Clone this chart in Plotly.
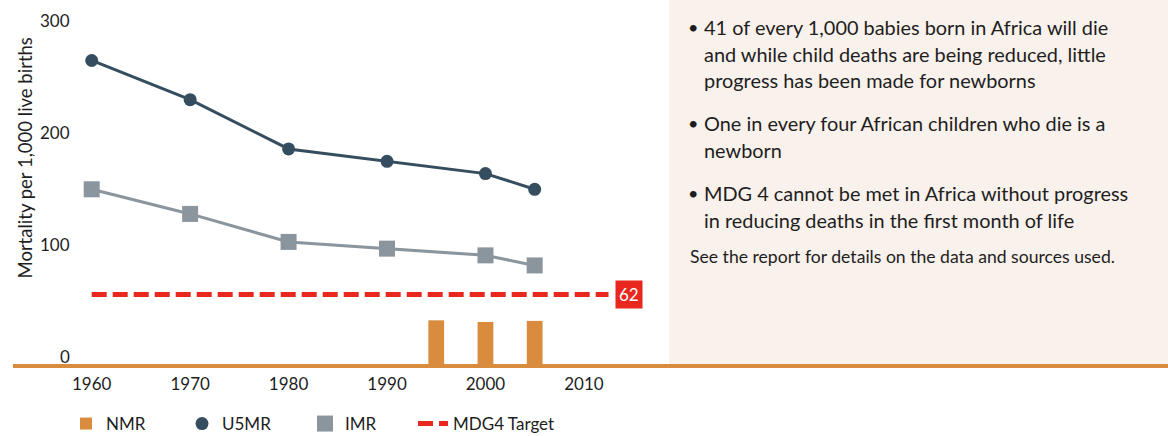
import plotly.graph_objects as go

# ---- data ----
years_line = [1960, 1970, 1980, 1990, 2000, 2005]
u5mr = [271, 236, 192, 181, 170, 156]
imr = [156, 134, 109, 103, 97, 88]
nmr_years = [1995, 2000, 2005]
nmr = [39, 37.5, 38.5]
target_years = [1960, 2012.5]
target_value = 62
x_ticks = [1960, 1970, 1980, 1990, 2000, 2010]
y_ticks = [0, 100, 200, 300]
y_title = "Mortality per 1,000 live births"
bullets = [
    ["41 of every 1,000 babies born in Africa will die",
     "and while child deaths are being reduced, little",
     "progress has been made for newborns"],
    ["One in every four African children who die is a",
     "newborn"],
    ["MDG 4 cannot be met in Africa without progress",
     "in reducing deaths in the first month of life"],
]
footnote = "See the report for details on the data and sources used."

# ---- style ----
FONT = "Lato"
C_U5 = "#354e5f"
C_IMR = "#8a959e"
C_NMR = "#d98c3d"
C_RED = "#e8281e"
C_BG = "#f9f1eb"
C_TXT = "#1e1e1e"

W, H = 1168, 436
ML, MR, MT, MB = 13, 0, 20, 72
PW, PH = W - ML - MR, H - MT - MB
PX_PER_YR = 9.844
PX_PER_UNIT = 1.12
x0 = 1960 - (91.7 - ML) / PX_PER_YR
x_range = [x0, x0 + PW / PX_PER_YR]
y_range = [0, PH / PX_PER_UNIT]


def px_x(p):
    return (p - ML) / PW


def px_y(p):
    return (H - MB - p) / PH


fig = go.Figure()

fig.add_trace(go.Bar(
    x=nmr_years, y=nmr, name="NMR", marker=dict(color=C_NMR, line_width=0),
    width=1.6, legend="legend",
))
# U5MR: line + markers (legend shows marker only)
fig.add_trace(go.Scatter(
    x=years_line, y=u5mr, mode="lines", line=dict(color=C_U5, width=3),
    showlegend=False, hoverinfo="skip",
))
fig.add_trace(go.Scatter(
    x=years_line, y=u5mr, name="U5MR", mode="markers",
    marker=dict(color=C_U5, size=13, symbol="circle"), legend="legend2",
))
# IMR
fig.add_trace(go.Scatter(
    x=years_line, y=imr, mode="lines", line=dict(color=C_IMR, width=3),
    showlegend=False, hoverinfo="skip",
))
fig.add_trace(go.Scatter(
    x=years_line, y=imr, name="IMR", mode="markers",
    marker=dict(color=C_IMR, size=16, symbol="square"), legend="legend3",
))
fig.add_trace(go.Scatter(
    x=target_years, y=[target_value] * len(target_years), name="MDG4 Target", mode="lines",
    line=dict(color=C_RED, width=5, dash="15px,6px"),
    legend="legend4",
))

annotations = []
# target value label
annotations.append(dict(
    x=target_years[-1], y=target_value, xref="x", yref="y", text=str(target_value),
    showarrow=False, xanchor="left", yanchor="middle", xshift=6,
    font=dict(family=FONT, size=17, color="white"), bgcolor=C_RED, borderpad=3,
))
# y tick labels
for v in y_ticks:
    annotations.append(dict(
        x=px_x(72), y=v, xref="paper", yref="y", text=str(v), showarrow=False,
        xanchor="right", yanchor="middle", yshift=8,
        font=dict(family=FONT, size=17, color=C_TXT),
    ))
# y axis title
annotations.append(dict(
    x=px_x(24), y=px_y(158.5), xref="paper", yref="paper", text=y_title,
    showarrow=False, textangle=-90, xanchor="center", yanchor="middle",
    font=dict(family=FONT, size=18.5, color=C_TXT),
))
# right panel text
line_y = [[26.7, 54.3, 80], [123.3, 150], [192.7, 220]]
for bl, ys in zip(bullets, line_y):
    annotations.append(dict(
        x=px_x(686), y=px_y(ys[0]), xref="paper", yref="paper", text="•",
        showarrow=False, xanchor="left", yanchor="middle",
        font=dict(family=FONT, size=18, color=C_TXT),
    ))
    for t, yy in zip(bl, ys):
        annotations.append(dict(
            x=px_x(702), y=px_y(yy), xref="paper", yref="paper", text=t,
            showarrow=False, xanchor="left", yanchor="middle",
            font=dict(family=FONT, size=19.9, color=C_TXT),
        ))
annotations.append(dict(
    x=px_x(688), y=px_y(256.7), xref="paper", yref="paper", text=footnote,
    showarrow=False, xanchor="left", yanchor="middle",
    font=dict(family=FONT, size=17.6, color=C_TXT),
))

shapes = [dict(
    type="rect", xref="paper", yref="paper", x0=px_x(669), x1=1.0, y0=0, y1=px_y(0),
    fillcolor=C_BG, line_width=0, layer="below",
)]

leg_y = px_y(424)
leg_common = dict(yanchor="middle", xanchor="left", orientation="h", y=leg_y,
                  bgcolor="rgba(0,0,0,0)", font=dict(family=FONT, size=17, color=C_TXT))

fig.update_layout(
    width=W, height=H,
    margin=dict(l=ML, r=MR, t=MT, b=MB, pad=0, autoexpand=False),
    paper_bgcolor="white", plot_bgcolor="rgba(0,0,0,0)",
    font=dict(family=FONT, size=16, color=C_TXT),
    xaxis=dict(range=x_range, tickvals=x_ticks, ticktext=[str(t) for t in x_ticks],
               showgrid=False, zeroline=False, showline=True, linecolor=C_NMR, linewidth=4,
               ticks="", ticklabelstandoff=2, automargin=False,
               tickfont=dict(family=FONT, size=17, color=C_TXT), fixedrange=True),
    yaxis=dict(range=y_range, showgrid=False, zeroline=False, showline=False,
               showticklabels=False, ticks="", fixedrange=True, automargin=False),
    legend=dict(x=px_x(66), **leg_common),
    legend2=dict(x=px_x(182), **leg_common),
    legend3=dict(x=px_x(305), **leg_common),
    legend4=dict(x=px_x(413), **leg_common),
    annotations=annotations,
    shapes=shapes,
    showlegend=True,
)

fig.write_html("out.html", config={"displayModeBar": False},
               post_script="document.body.style.margin='0px';")
